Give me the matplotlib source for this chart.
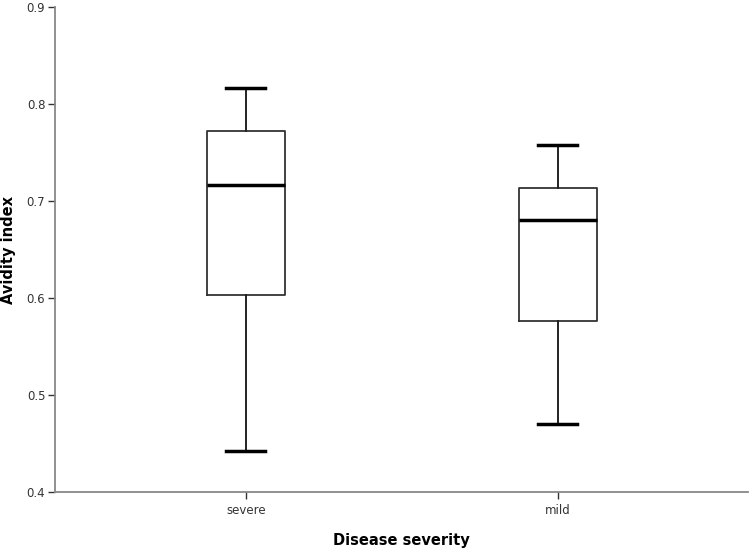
import matplotlib
matplotlib.use("Agg")
import matplotlib.pyplot as plt

categories = ["severe", "mild"]
whislo = [0.442, 0.470]
q1 = [0.603, 0.576]
med = [0.717, 0.681]
q3 = [0.772, 0.713]
whishi = [0.817, 0.758]
yticks = [0.4, 0.5, 0.6, 0.7, 0.8, 0.9]

plt.rcParams['font.family'] = ['DejaVu Sans']

fig = plt.figure(figsize=(7.5, 5.5), dpi=100)
ax = fig.add_axes([0.0733, 0.1055, 0.9237, 0.8815])

stats = []
for i, c in enumerate(categories):
    stats.append(dict(label=c, whislo=whislo[i], q1=q1[i], med=med[i], q3=q3[i], whishi=whishi[i], fliers=[]))

ax.bxp(stats, positions=[0, 1], widths=0.25, showfliers=False,
       boxprops=dict(color='#333333', linewidth=1.3),
       medianprops=dict(color='black', linewidth=2.5),
       whiskerprops=dict(color='#222222', linewidth=1.4),
       capprops=dict(color='black', linewidth=2.5),
       capwidths=0.125)

ax.set_xlim(-0.612, 1.61)
ax.set_ylim(0.4, 0.9)
ax.set_yticks(yticks)
ax.set_yticklabels([f"{t:.1f}" for t in yticks])
ax.set_xticks([0, 1])
ax.set_xticklabels(categories)
for s in ['top', 'right']:
    ax.spines[s].set_visible(False)
for s in ['left', 'bottom']:
    ax.spines[s].set_color('#888888')
    ax.spines[s].set_linewidth(1.3)
ax.tick_params(axis='both', labelsize=8.5, colors='#333333', length=5, width=1, pad=2)
ax.tick_params(axis='x', pad=4)
ax.set_ylabel("Avidity index", fontsize=10.5, fontweight='bold', labelpad=8)
ax.set_xlabel("Disease severity", fontsize=10.5, fontweight='bold', labelpad=11)

fig.savefig("out.png", dpi=100)
